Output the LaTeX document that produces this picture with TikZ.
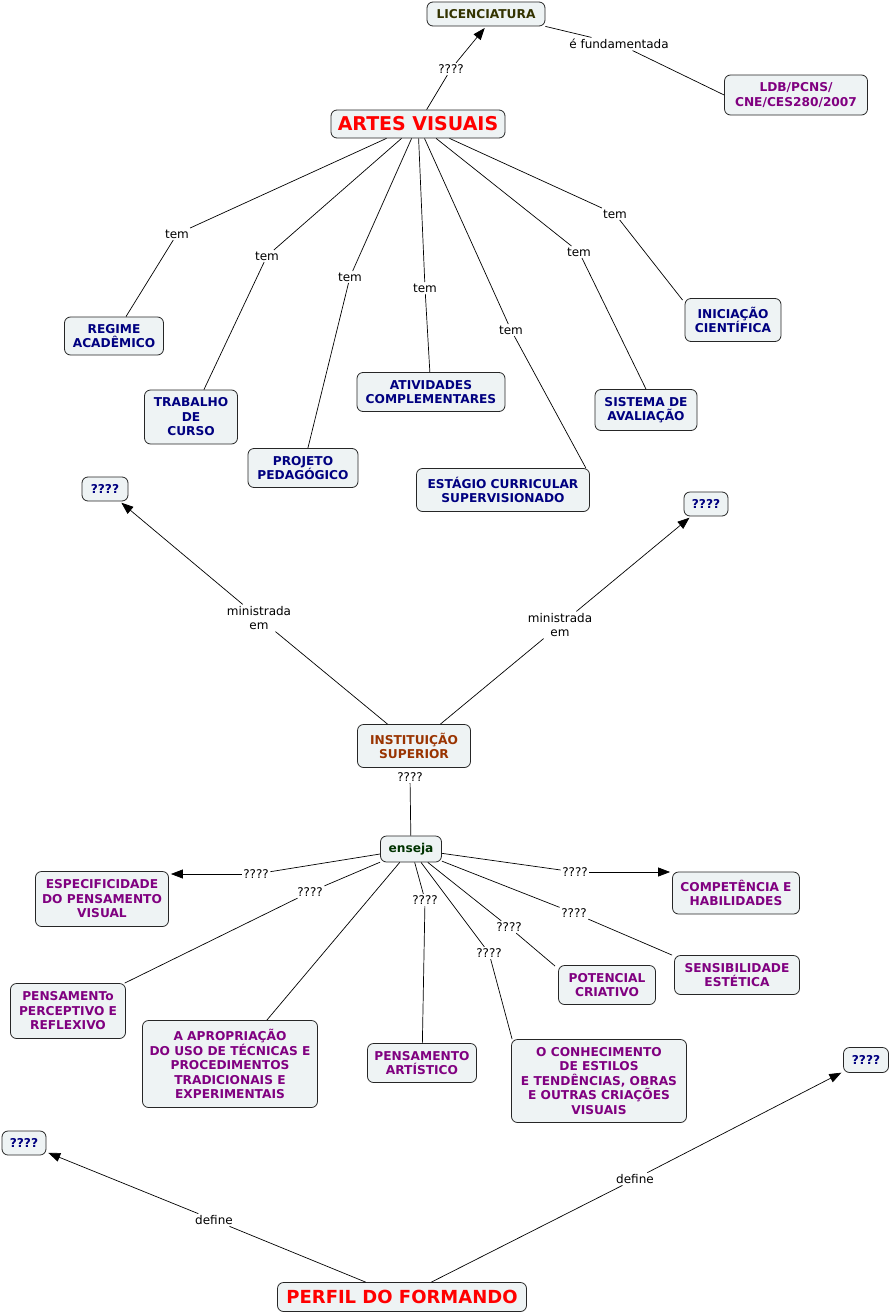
\documentclass[tikz,border=0pt]{standalone}
\usepackage{fontspec}
\setmainfont{DejaVu Sans}
\usetikzlibrary{arrows.meta}
\definecolor{boxfill}{HTML}{EEF3F4}
\definecolor{navyc}{HTML}{000080}
\definecolor{purplec}{HTML}{800080}
\definecolor{olivec}{HTML}{333300}
\definecolor{brownc}{HTML}{993300}
\definecolor{greenc}{HTML}{003300}
\definecolor{redc}{HTML}{FF0000}
\tikzset{
  box/.style={draw=black!85, line width=0.8pt, rounded corners=6pt, fill=boxfill, align=center, inner sep=2pt,
    font=\bfseries\fontsize{12.2}{14.5}\selectfont},
  bigbox/.style={box, text=redc},
  lbl/.style={fill=white, inner sep=1.5pt, align=center, font=\fontsize{12}{14.5}\selectfont},
  conn/.style={draw, line width=0.7pt},
  arr/.style={conn, -{Triangle[length=12pt,width=9pt]}, shorten >=2pt},
}
\begin{document}
\begin{tikzpicture}[x=1pt,y=-1pt]
\useasboundingbox (0,0) rectangle (892,1314);
% nodes
\node[box, text=olivec, minimum width=118pt, minimum height=24pt] (lic) at (486,14) {LICENCIATURA};
\node[box, text=purplec, minimum width=143pt, minimum height=40pt] (ldb) at (796,95) {LDB/PCNS/\\CNE/CES280/2007};
\node[bigbox, font=\bfseries\fontsize{19}{22}\selectfont, minimum width=174pt, minimum height=28pt] (artes) at (418,124) {ARTES VISUAIS};
\node[box, text=navyc, minimum width=99pt, minimum height=38pt] (regime) at (114,336) {REGIME\\ACADÊMICO};
\node[box, text=navyc, minimum width=93pt, minimum height=54pt] (trab) at (191,417) {TRABALHO\\DE\\CURSO};
\node[box, text=navyc, minimum width=110pt, minimum height=39pt] (proj) at (303,468) {PROJETO\\PEDAGÓGICO};
\node[box, text=navyc, minimum width=148pt, minimum height=39pt] (ativ) at (431,392) {ATIVIDADES\\COMPLEMENTARES};
\node[box, text=navyc, minimum width=173pt, minimum height=43pt] (estagio) at (503,490) {ESTÁGIO CURRICULAR\\SUPERVISIONADO};
\node[box, text=navyc, minimum width=102pt, minimum height=41pt] (sist) at (646,410) {SISTEMA DE\\AVALIAÇÃO};
\node[box, text=navyc, minimum width=96pt, minimum height=43pt] (inic) at (733,320) {INICIAÇÃO\\CIENTÍFICA};
\node[box, text=navyc, minimum width=46pt, minimum height=24pt] (qa) at (105,489) {????};
\node[box, text=navyc, minimum width=44pt, minimum height=24pt] (qb) at (706,504) {????};
\node[box, text=brownc, minimum width=113pt, minimum height=43pt] (inst) at (414,746) {INSTITUIÇÃO\\SUPERIOR};
\node[box, text=greenc, minimum width=61pt, minimum height=26pt] (enseja) at (411,849) {enseja};
\node[box, text=purplec, minimum width=133pt, minimum height=55pt] (espec) at (102,899) {ESPECIFICIDADE\\DO PENSAMENTO\\VISUAL};
\node[box, text=purplec, minimum width=127pt, minimum height=42pt] (comp) at (736,893) {COMPETÊNCIA E\\HABILIDADES};
\node[box, text=purplec, minimum width=115pt, minimum height=55pt] (percep) at (68,1011) {PENSAMENTo\\PERCEPTIVO E\\REFLEXIVO};
\node[box, text=purplec, minimum width=97pt, minimum height=39pt] (pot) at (607,985) {POTENCIAL\\CRIATIVO};
\node[box, text=purplec, minimum width=125pt, minimum height=39pt] (sens) at (737,975) {SENSIBILIDADE\\ESTÉTICA};
\node[box, text=purplec, minimum width=175pt, minimum height=87pt] (aprop) at (230,1064) {A APROPRIAÇÃO\\DO USO DE TÉCNICAS E\\PROCEDIMENTOS\\TRADICIONAIS E\\EXPERIMENTAIS};
\node[box, text=purplec, minimum width=109pt, minimum height=39pt] (partis) at (422,1063) {PENSAMENTO\\ARTÍSTICO};
\node[box, text=purplec, minimum width=175pt, minimum height=83pt] (conhec) at (599,1081) {O CONHECIMENTO\\DE ESTILOS\\E TENDÊNCIAS, OBRAS\\E OUTRAS CRIAÇÕES\\VISUAIS};
\node[box, text=navyc, minimum width=45pt, minimum height=25pt] (qc) at (866,1060) {????};
\node[box, text=navyc, minimum width=44pt, minimum height=24pt] (qd) at (24,1143) {????};
\node[bigbox, font=\bfseries\fontsize{18}{21}\selectfont, minimum width=249pt, minimum height=29pt] (perfil) at (402,1297) {PERFIL DO FORMANDO};
% labels
\node[lbl] (l1) at (451,69) {????};
\node[lbl] (l2) at (619,44) {é fundamentada};
\node[lbl] (t1) at (177,234) {tem};
\node[lbl] (t2) at (267,256) {tem};
\node[lbl] (t3) at (350,277) {tem};
\node[lbl] (t4) at (425,288) {tem};
\node[lbl] (t5) at (511,330) {tem};
\node[lbl] (t6) at (579,252) {tem};
\node[lbl] (t7) at (615,214) {tem};
\node[lbl] (m1) at (259,618) {ministrada\\em};
\node[lbl] (m2) at (560,625) {ministrada\\em};
\node[lbl] (q0) at (410,777) {????};
\node[lbl] (e1) at (256,874) {????};
\node[lbl] (e2) at (310,892) {????};
\node[lbl] (e4) at (425,900) {????};
\node[lbl] (e5) at (489,953) {????};
\node[lbl] (e6) at (509,927) {????};
\node[lbl] (e7) at (574,913) {????};
\node[lbl] (e8) at (575,872) {????};
\node[lbl] (d1) at (214,1220) {define};
\node[lbl] (d2) at (635,1179) {define};
% connectors
\draw[conn] (artes) -- (l1);
\draw[arr] (l1) -- (lic.south);
\draw[conn] (lic.south east) -- (l2) -- (ldb.west);
\draw[conn] (artes) -- (t1) -- (regime);
\draw[conn] (artes) -- (t2) -- (trab);
\draw[conn] (artes) -- (t3) -- (proj);
\draw[conn] (artes) -- (t4) -- (ativ);
\draw[conn] (artes) -- (t5) -- ([xshift=-4pt]estagio.north east);
\draw[conn] (artes) -- (t6) -- (sist.north);
\draw[conn] (artes) -- (t7) -- ([shift={(-2pt,-2pt)}]inic.north west);
\draw[conn] (inst) -- (m1);
\draw[arr] (m1) -- (qa);
\draw[conn] (inst) -- (m2);
\draw[arr] (m2) -- (qb);
\draw[conn] (q0) -- (enseja);
\draw[conn] (enseja) -- (e1);
\draw[arr] (e1) -- (e1 -| espec.east);
\draw[conn] (enseja) -- (e2) -- (percep);
\draw[conn] (enseja) -- (aprop);
\draw[conn] (enseja) -- (e4) -- (partis);
\draw[conn] (enseja) -- (e5) -- ([xshift=1pt]conhec.north west);
\draw[conn] (enseja) -- (e6) -- ([shift={(-3pt,-1pt)}]pot.north west);
\draw[conn] (enseja) -- (e7) -- ([xshift=-2pt]sens.north west);
\draw[conn] (enseja) -- (e8);
\draw[arr] (e8) -- (e8 -| comp.west);
\draw[conn] (perfil) -- (d1);
\draw[arr] (d1) -- (qd);
\draw[conn] (perfil) -- (d2);
\draw[arr] (d2) -- (qc);
\end{tikzpicture}
\end{document}
